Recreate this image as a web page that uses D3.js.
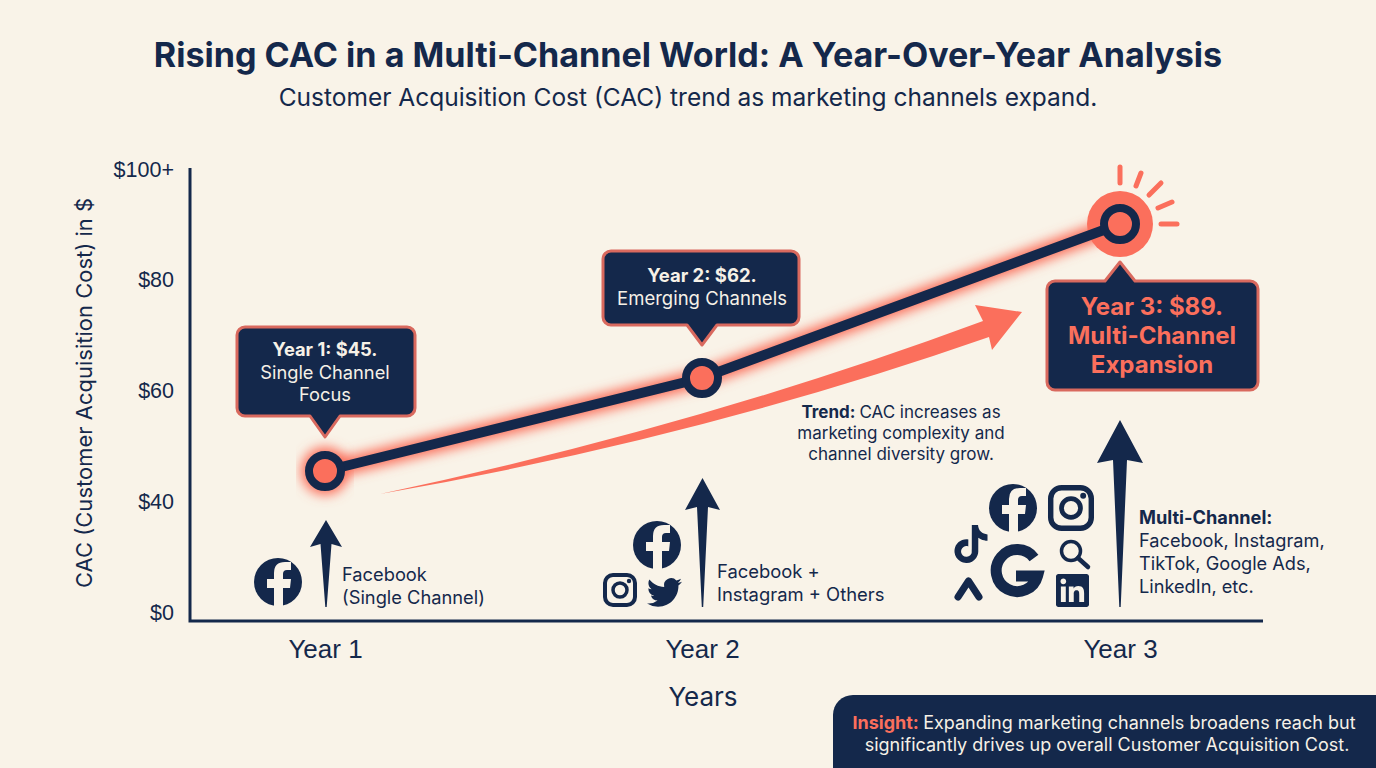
<!DOCTYPE html>
<html>
<head>
<meta charset="utf-8">
<script src="https://cdn.jsdelivr.net/npm/d3@7"></script>
<style>
  html, body { margin: 0; padding: 0; background: #f9f3e8; overflow: hidden; }
  svg { display: block; font-family: Inter, "Noto Sans", sans-serif; }
</style>
</head>
<body>
<div id="chart"></div>
<script>
const years = ['Year 1', 'Year 2', 'Year 3'];
const cac = [45, 62, 89];
const yTicks = [0, 40, 60, 80, 100];
const tickLabels = ['$0', '$40', '$60', '$80', '$100+'];
const callout1 = ['Year 1: $45.', 'Single Channel', 'Focus'];
const callout2 = ['Year 2: $62.', 'Emerging Channels'];
const callout3 = ['Year 3: $89.', 'Multi-Channel', 'Expansion'];

const navy = '#14284b';
const coral = '#fb6f5c';
const edge = '#d9695e';
const paper = '#f9f3e8';

const svg = d3.select('#chart').append('svg').attr('width', 1376).attr('height', 768);

const defs = svg.append('defs');
defs.append('filter').attr('id', 'glow')
    .attr('x', '-10%').attr('y', '-40%').attr('width', '120%').attr('height', '180%')
    .append('feGaussianBlur').attr('stdDeviation', 6);

svg.append('rect').attr('width', 1376).attr('height', 768).attr('fill', paper);

// the axis is not even: $0 to $40 takes the same room as a $20 step,
// and the three points sit slightly off the straight $20 steps
const y = d3.scaleLinear()
    .domain([0, 40, 45, 60, 62, 80, 89, 100])
    .range([613, 502, 471, 391, 378, 280, 224, 170]);
const x = d3.scaleOrdinal().domain(years).range([325, 702, 1120]);

svg.append('text').attr('x', 688).attr('y', 67).attr('text-anchor', 'middle')
    .attr('font-size', 34.1).attr('font-weight', 700).attr('fill', navy)
    .text('Rising CAC in a Multi-Channel World: A Year-Over-Year Analysis');
svg.append('text').attr('x', 688).attr('y', 106).attr('text-anchor', 'middle')
    .attr('font-size', 24.5).attr('fill', navy)
    .text('Customer Acquisition Cost (CAC) trend as marketing channels expand.');

// axes
const yAxis = svg.append('g').attr('transform', 'translate(174,0)')
    .call(d3.axisLeft(y).tickValues(yTicks).tickSize(0).tickPadding(0)
        .tickFormat((d, i) => tickLabels[i]));
yAxis.select('.domain').remove();
yAxis.selectAll('text').attr('font-size', 21.5).attr('fill', navy).attr('font-family', 'inherit');

const xAxis = svg.append('g').attr('transform', 'translate(0,621)')
    .call(d3.axisBottom(x).tickValues(years).tickSize(0).tickPadding(19));
xAxis.select('.domain').remove();
xAxis.selectAll('text').attr('font-size', 26).attr('fill', navy).attr('font-family', 'inherit');

svg.append('path').attr('d', 'M190,168V621H1263').attr('fill', 'none')
    .attr('stroke', navy).attr('stroke-width', 3);

svg.append('text').attr('transform', 'translate(92,393) rotate(-90)').attr('text-anchor', 'middle')
    .attr('font-size', 22).attr('fill', navy).text('CAC (Customer Acquisition Cost) in $');
svg.append('text').attr('x', 703).attr('y', 706).attr('text-anchor', 'middle')
    .attr('font-size', 26).attr('fill', navy).text('Years');

// trend arrow
svg.append('path')
    .attr('d', 'M380,494Q700,426 983,321L975,305L1022,312L992,350L989,337Q700,438 380,494Z')
    .attr('fill', coral);

// line and points
const line = d3.line().x((d, i) => x(years[i])).y(d => y(d));
svg.append('path').attr('d', line(cac)).attr('fill', 'none')
    .attr('stroke', coral).attr('stroke-width', 18).attr('filter', 'url(#glow)');
svg.append('circle').attr('cx', x(years[0])).attr('cy', y(cac[0])).attr('r', 24)
    .attr('fill', coral).attr('filter', 'url(#glow)');
svg.append('circle').attr('cx', x(years[2])).attr('cy', y(cac[2])).attr('r', 33).attr('fill', coral);
svg.append('path').attr('d', line(cac)).attr('fill', 'none')
    .attr('stroke', navy).attr('stroke-width', 10);

svg.selectAll('.ring').data(cac).join('circle').attr('class', 'ring')
    .attr('cx', (d, i) => x(years[i])).attr('cy', d => y(d))
    .attr('r', 16).attr('fill', coral).attr('stroke', navy).attr('stroke-width', 8);

// rays round the last point
const rays = [[1120, 167, 1120, 183], [1141, 173, 1136, 186], [1161, 183, 1149, 195],
    [1172, 202, 1158, 208], [1161, 224, 1177, 224]];
svg.selectAll('.ray').data(rays).join('line').attr('class', 'ray')
    .attr('x1', d => d[0]).attr('y1', d => d[1]).attr('x2', d => d[2]).attr('y2', d => d[3])
    .attr('stroke', coral).attr('stroke-width', 5).attr('stroke-linecap', 'round');

// callouts
function callout(left, top, right, bottom, tipX, tipY, up) {
    const r = 8, w = 15;
    const p = d3.path();
    p.moveTo(left + r, top);
    if (up) { p.lineTo(tipX - w, top); p.lineTo(tipX, tipY); p.lineTo(tipX + w, top); }
    p.arcTo(right, top, right, top + r, r);
    p.arcTo(right, bottom, right - r, bottom, r);
    if (!up) { p.lineTo(tipX + w, bottom); p.lineTo(tipX, tipY); p.lineTo(tipX - w, bottom); }
    p.arcTo(left, bottom, left, bottom - r, r);
    p.arcTo(left, top, left + r, top, r);
    p.closePath();
    svg.append('path').attr('d', p.toString()).attr('fill', navy)
        .attr('stroke', edge).attr('stroke-width', 3).attr('stroke-linejoin', 'round');
}
function lines(rows, cx, ys, size, fill, boldAll) {
    svg.append('g').selectAll('text').data(rows).join('text')
        .attr('x', cx).attr('y', (d, i) => ys[i]).attr('text-anchor', 'middle')
        .attr('font-size', size).attr('fill', fill)
        .attr('font-weight', (d, i) => boldAll || i === 0 ? 700 : 400)
        .text(d => d);
}
callout(237, 327, 415, 416, 325, 437, false);
lines(callout1, 325, [356, 379, 401], 18.3, '#f6f1e7');
callout(603, 251, 799, 325, 702, 345, false);
lines(callout2, 702, [282, 305], 18.5, '#f6f1e7');
callout(1047, 281, 1258, 390, 1120, 262, true);
lines(callout3, 1152, [315, 344, 373], 24, coral, true);

// arrows that grow with the number of channels
function upArrow(cx, tip, headY, headW, stemW, bottom) {
    svg.append('path').attr('fill', navy)
        .attr('d', `M${cx},${tip}L${cx + headW},${headY}L${cx + stemW},${headY - 3}L${cx + 0.7},${bottom}`
            + `L${cx - 0.7},${bottom}L${cx - stemW},${headY - 3}L${cx - headW},${headY}Z`);
}
upArrow(326, 520, 547, 16, 5.5, 607);
upArrow(702.5, 478, 510, 17.5, 5.5, 607);
upArrow(1120, 420, 463, 23, 7, 607);

// icons
function facebook(cx, cy, r) {
    const g = svg.append('g').attr('transform', `translate(${cx},${cy}) scale(${r / 24})`);
    g.append('circle').attr('r', 24).attr('fill', navy);
    g.append('path').attr('fill', paper)
        .attr('d', 'M5,24V6H12L13,-3H5V-8Q5,-12 9,-12H13V-20H7Q-4,-20 -4,-9V-3H-11V6H-4V24Z');
}
function instagram(left, top, s) {
    const g = svg.append('g').attr('transform', `translate(${left},${top}) scale(${s / 34})`);
    g.append('rect').attr('x', 2).attr('y', 2).attr('width', 30).attr('height', 30).attr('rx', 8)
        .attr('fill', 'none').attr('stroke', navy).attr('stroke-width', 4);
    g.append('circle').attr('cx', 17).attr('cy', 17).attr('r', 7)
        .attr('fill', 'none').attr('stroke', navy).attr('stroke-width', 3.5);
    g.append('circle').attr('cx', 26).attr('cy', 8).attr('r', 2.2).attr('fill', navy);
}
function glyph(d, left, top, s) {
    svg.append('path').attr('d', d).attr('fill', navy)
        .attr('transform', `translate(${left},${top}) scale(${s / 24})`);
}
const twitterPath = 'M23.953 4.57a10 10 0 01-2.825.775 4.958 4.958 0 002.163-2.723c-.951.555-2.005.959-3.127 1.184a4.92 4.92 0 00-8.384 4.482C7.69 8.095 4.067 6.13 1.64 3.162a4.822 4.822 0 00-.666 2.475c0 1.71.87 3.213 2.188 4.096a4.904 4.904 0 01-2.228-.616v.06a4.923 4.923 0 003.946 4.827 4.996 4.996 0 01-2.212.085 4.936 4.936 0 004.604 3.417 9.867 9.867 0 01-6.102 2.105c-.39 0-.779-.023-1.17-.067a13.995 13.995 0 007.557 2.209c9.053 0 13.998-7.496 13.998-13.985 0-.21 0-.42-.015-.63A9.935 9.935 0 0024 4.59z';
const tiktokPath = 'M12.525.02c1.31-.02 2.61-.01 3.91-.02.08 1.53.63 3.09 1.75 4.17 1.12 1.11 2.7 1.62 4.24 1.79v4.03c-1.44-.05-2.89-.35-4.2-.97-.57-.26-1.1-.59-1.62-.93-.01 2.92.01 5.84-.02 8.75-.08 1.4-.54 2.79-1.35 3.94-1.31 1.92-3.58 3.17-5.91 3.21-1.43.08-2.86-.31-4.08-1.03-2.02-1.19-3.44-3.37-3.65-5.71-.02-.5-.03-1-.01-1.49.18-1.9 1.12-3.72 2.58-4.96 1.66-1.44 3.98-2.13 6.15-1.72.02 1.48-.04 2.96-.04 4.44-.99-.32-2.15-.23-3.02.37-.63.41-1.11 1.04-1.36 1.75-.21.51-.15 1.07-.14 1.61.24 1.64 1.82 3.02 3.5 2.87 1.12-.01 2.19-.66 2.77-1.61.19-.33.4-.67.41-1.06.1-1.79.06-3.57.07-5.36.01-4.03-.01-8.05.02-12.07z';
const linkedinPath = 'M20.447 20.452h-3.554v-5.569c0-1.328-.027-3.037-1.852-3.037-1.853 0-2.136 1.445-2.136 2.939v5.667H9.351V9h3.414v1.561h.046c.477-.9 1.637-1.85 3.37-1.85 3.601 0 4.267 2.37 4.267 5.455v6.286zM5.337 7.433c-1.144 0-2.063-.926-2.063-2.065 0-1.138.92-2.063 2.063-2.063 1.14 0 2.064.925 2.064 2.063 0 1.139-.925 2.065-2.064 2.065zm1.782 13.019H3.555V9h3.564v11.452zM22.225 0H1.771C.792 0 0 .774 0 1.729v20.542C0 23.227.792 24 1.771 24h20.451C23.2 24 24 23.227 24 22.271V1.729C24 .774 23.2 0 22.222 0h.003z';

facebook(278, 582, 24);
facebook(657, 545, 24);
instagram(603, 573, 34);
glyph(twitterPath, 647, 575, 35);
facebook(1013, 508, 24);
instagram(1048, 485, 46);
glyph(tiktokPath, 952, 525, 38);
glyph(linkedinPath, 1056, 574, 33);

// google G
svg.append('path').attr('fill', 'none').attr('stroke', navy).attr('stroke-width', 11)
    .attr('d', 'M1034,558A21,21 0 1 0 1037.5,576H1016');
// ads chevron
svg.append('path').attr('d', 'M958,597L968.5,581L979,597').attr('fill', 'none')
    .attr('stroke', navy).attr('stroke-width', 7).attr('stroke-linecap', 'round').attr('stroke-linejoin', 'round');
// search
svg.append('circle').attr('cx', 1071).attr('cy', 551).attr('r', 9.5).attr('fill', 'none')
    .attr('stroke', navy).attr('stroke-width', 3.5);
svg.append('line').attr('x1', 1078).attr('y1', 558).attr('x2', 1088).attr('y2', 567)
    .attr('stroke', navy).attr('stroke-width', 4.5).attr('stroke-linecap', 'round');

// notes
function note(rows, left, ys, size, anchor) {
    const t = svg.append('g').selectAll('text').data(rows).join('text')
        .attr('x', left).attr('y', (d, i) => ys[i]).attr('text-anchor', anchor || 'start')
        .attr('font-size', size).attr('fill', navy);
    t.append('tspan').attr('font-weight', 700).text(d => d[0]);
    t.append('tspan').text(d => d[1]);
}
note([['', 'Facebook'], ['', '(Single Channel)']], 342, [581, 604], 18.3);
note([['', 'Facebook +'], ['', 'Instagram + Others']], 717, [578, 601], 18.4);
note([['Multi-Channel:', ''], ['', 'Facebook, Instagram,'], ['', 'TikTok, Google Ads,'], ['', 'LinkedIn, etc.']],
    1139, [524, 547, 570, 593], 18.2);
note([['Trend: ', 'CAC increases as'], ['', 'marketing complexity and'], ['', 'channel diversity grow.']],
    901, [418, 439, 460], 17, 'middle');

// insight box
svg.append('path').attr('d', 'M1376,695H853A20,20 0 0 0 833,715V768H1376Z').attr('fill', navy);
const insight = svg.append('text').attr('x', 1104).attr('y', 729).attr('text-anchor', 'middle')
    .attr('font-size', 18).attr('fill', '#f6f1e7');
insight.append('tspan').attr('font-weight', 700).attr('fill', coral).text('Insight: ');
insight.append('tspan').text('Expanding marketing channels broadens reach but');
svg.append('text').attr('x', 1107).attr('y', 751).attr('text-anchor', 'middle')
    .attr('font-size', 18).attr('fill', '#f6f1e7')
    .text('significantly drives up overall Customer Acquisition Cost.');
</script>
</body>
</html>
